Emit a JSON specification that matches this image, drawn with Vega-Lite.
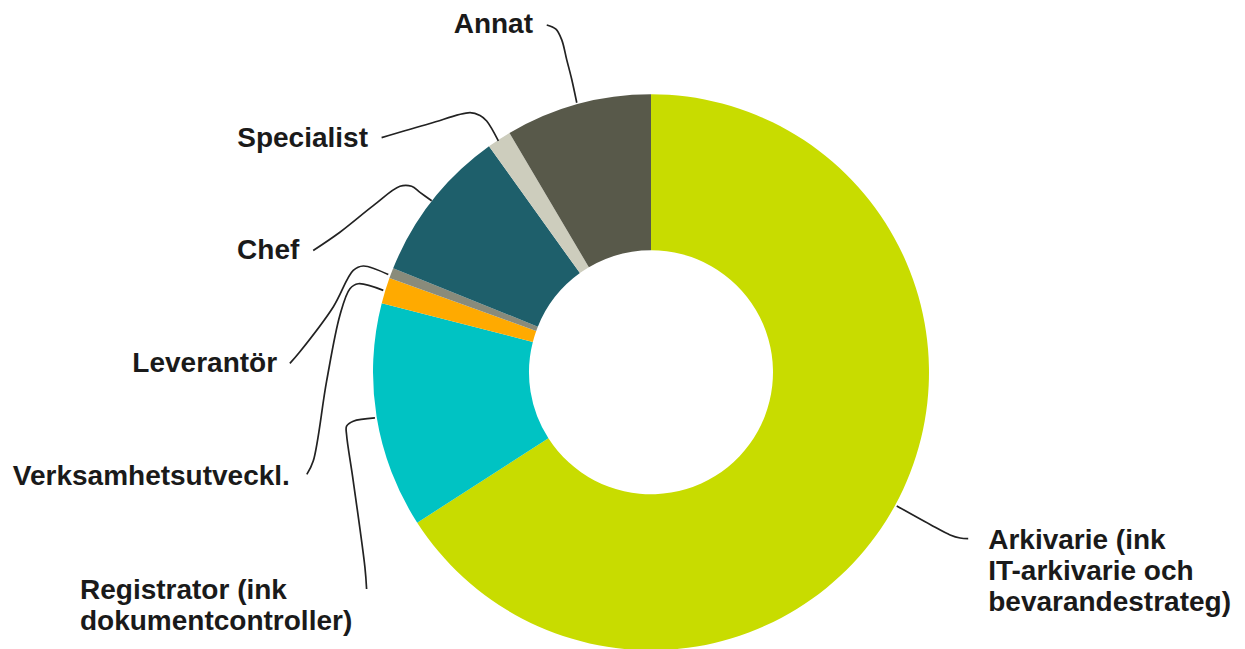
{
  "$schema": "https://vega.github.io/schema/vega-lite/v6.json",
  "width": 1245,
  "height": 649,
  "autosize": {"type": "fit", "contains": "padding"},
  "padding": 0,
  "background": "white",
  "config": {"view": {"stroke": null}},
  "datasets": {
    "roles": [
      {"roll": "Arkivarie", "andel": 65.9, "ordning": 1},
      {"roll": "Registrator", "andel": 13.1, "ordning": 2},
      {"roll": "Verksamhetsutveckl.", "andel": 1.5, "ordning": 3},
      {"roll": "Leverantör", "andel": 0.6, "ordning": 4},
      {"roll": "Chef", "andel": 9.0, "ordning": 5},
      {"roll": "Specialist", "andel": 1.4, "ordning": 6},
      {"roll": "Annat", "andel": 8.5, "ordning": 7}
    ],
    "labels": [
      {"roll": "Annat", "text": "Annat", "lx": -0.4245, "ly": 1.2266, "anker": "end"},
      {"roll": "Specialist", "text": "Specialist", "lx": -1.018, "ly": 0.814, "anker": "end"},
      {"roll": "Chef", "text": "Chef", "lx": -1.265, "ly": 0.41, "anker": "end"},
      {"roll": "Leverantör", "text": "Leverantör", "lx": -1.345, "ly": 0.0, "anker": "end"},
      {"roll": "Verksamhetsutveckl.", "text": "Verksamhetsutveckl.", "lx": -1.299, "ly": -0.409, "anker": "end"},
      {"roll": "Registrator", "text": "Registrator (ink\ndokumentcontroller)", "lx": -2.054, "ly": -0.819, "anker": "start"},
      {"roll": "Arkivarie", "text": "Arkivarie (ink\nIT-arkivarie och\nbevarandestrateg)", "lx": 1.213, "ly": -0.639, "anker": "start"}
    ],
    "leaders": [
      {"roll": "Annat", "steg": 1, "x": -0.375, "y": 1.255},
      {"roll": "Annat", "steg": 2, "x": -0.342, "y": 1.24},
      {"roll": "Annat", "steg": 3, "x": -0.321, "y": 1.201},
      {"roll": "Annat", "steg": 4, "x": -0.303, "y": 1.129},
      {"roll": "Annat", "steg": 5, "x": -0.285, "y": 1.058},
      {"roll": "Annat", "steg": 6, "x": -0.267, "y": 0.974},
      {"roll": "Specialist", "steg": 1, "x": -0.969, "y": 0.848},
      {"roll": "Specialist", "steg": 2, "x": -0.795, "y": 0.899},
      {"roll": "Specialist", "steg": 3, "x": -0.651, "y": 0.938},
      {"roll": "Specialist", "steg": 4, "x": -0.615, "y": 0.928},
      {"roll": "Specialist", "steg": 5, "x": -0.591, "y": 0.908},
      {"roll": "Specialist", "steg": 6, "x": -0.549, "y": 0.836},
      {"roll": "Chef", "steg": 1, "x": -1.215, "y": 0.44},
      {"roll": "Chef", "steg": 2, "x": -1.119, "y": 0.506},
      {"roll": "Chef", "steg": 3, "x": -0.999, "y": 0.602},
      {"roll": "Chef", "steg": 4, "x": -0.903, "y": 0.672},
      {"roll": "Chef", "steg": 5, "x": -0.861, "y": 0.672},
      {"roll": "Chef", "steg": 6, "x": -0.831, "y": 0.65},
      {"roll": "Chef", "steg": 7, "x": -0.789, "y": 0.62},
      {"roll": "Leverantör", "steg": 1, "x": -1.299, "y": 0.032},
      {"roll": "Leverantör", "steg": 2, "x": -1.263, "y": 0.074},
      {"roll": "Leverantör", "steg": 3, "x": -1.143, "y": 0.236},
      {"roll": "Leverantör", "steg": 4, "x": -1.071, "y": 0.368},
      {"roll": "Leverantör", "steg": 5, "x": -1.035, "y": 0.384},
      {"roll": "Leverantör", "steg": 6, "x": -0.945, "y": 0.353},
      {"roll": "Verksamhetsutveckl.", "steg": 1, "x": -1.238, "y": -0.369},
      {"roll": "Verksamhetsutveckl.", "steg": 2, "x": -1.215, "y": -0.321},
      {"roll": "Verksamhetsutveckl.", "steg": 3, "x": -1.167, "y": -0.033},
      {"roll": "Verksamhetsutveckl.", "steg": 4, "x": -1.119, "y": 0.206},
      {"roll": "Verksamhetsutveckl.", "steg": 5, "x": -1.083, "y": 0.302},
      {"roll": "Verksamhetsutveckl.", "steg": 6, "x": -1.053, "y": 0.32},
      {"roll": "Verksamhetsutveckl.", "steg": 7, "x": -0.963, "y": 0.296},
      {"roll": "Registrator", "steg": 1, "x": -1.023, "y": -0.783},
      {"roll": "Registrator", "steg": 2, "x": -1.029, "y": -0.705},
      {"roll": "Registrator", "steg": 3, "x": -1.071, "y": -0.393},
      {"roll": "Registrator", "steg": 4, "x": -1.095, "y": -0.226},
      {"roll": "Registrator", "steg": 5, "x": -1.095, "y": -0.195},
      {"roll": "Registrator", "steg": 6, "x": -1.071, "y": -0.177},
      {"roll": "Registrator", "steg": 7, "x": -0.993, "y": -0.165},
      {"roll": "Arkivarie", "steg": 1, "x": 0.884, "y": -0.483},
      {"roll": "Arkivarie", "steg": 2, "x": 1.004, "y": -0.55},
      {"roll": "Arkivarie", "steg": 3, "x": 1.076, "y": -0.588},
      {"roll": "Arkivarie", "steg": 4, "x": 1.112, "y": -0.599},
      {"roll": "Arkivarie", "steg": 5, "x": 1.141, "y": -0.601}
    ]
  },
  "layer": [
    {
      "data": {"name": "roles"},
      "mark": {"type": "arc", "outerRadius": 278, "innerRadius": 122},
      "encoding": {
        "theta": {"field": "andel", "type": "quantitative", "stack": true},
        "order": {"field": "ordning", "type": "quantitative"},
        "color": {
          "field": "roll",
          "type": "nominal",
          "scale": {
            "domain": ["Arkivarie", "Registrator", "Verksamhetsutveckl.", "Leverantör", "Chef", "Specialist", "Annat"],
            "range": ["#C8DC00", "#00C3C3", "#FFAA00", "#898B7B", "#1E5F6B", "#CDCDBD", "#58594A"]
          },
          "legend": null
        },
        "x": {"datum": 0, "type": "quantitative", "scale": {"domain": [-2.3417, 2.1367], "nice": false, "zero": false}, "axis": null},
        "y": {"datum": 0, "type": "quantitative", "scale": {"domain": [-0.9892, 1.3453], "nice": false, "zero": false}, "axis": null}
      }
    },
    {
      "data": {"name": "leaders"},
      "mark": {"type": "line", "interpolate": "catmull-rom", "color": "#222222", "strokeWidth": 1.7},
      "encoding": {
        "x": {"field": "x", "type": "quantitative"},
        "y": {"field": "y", "type": "quantitative"},
        "detail": {"field": "roll", "type": "nominal"},
        "order": {"field": "steg", "type": "quantitative"}
      }
    },
    {
      "data": {"name": "labels"},
      "transform": [{"filter": "datum.anker === 'end'"}],
      "mark": {"type": "text", "align": "right", "baseline": "alphabetic", "font": "Liberation Sans", "fontWeight": "bold", "fontSize": 28, "color": "#1a1a1a", "lineBreak": "\n", "lineHeight": 31},
      "encoding": {
        "x": {"field": "lx", "type": "quantitative"},
        "y": {"field": "ly", "type": "quantitative"},
        "text": {"field": "text", "type": "nominal"}
      }
    },
    {
      "data": {"name": "labels"},
      "transform": [{"filter": "datum.anker === 'start'"}],
      "mark": {"type": "text", "align": "left", "baseline": "alphabetic", "font": "Liberation Sans", "fontWeight": "bold", "fontSize": 28, "color": "#1a1a1a", "lineBreak": "\n", "lineHeight": 31},
      "encoding": {
        "x": {"field": "lx", "type": "quantitative"},
        "y": {"field": "ly", "type": "quantitative"},
        "text": {"field": "text", "type": "nominal"}
      }
    }
  ]
}
